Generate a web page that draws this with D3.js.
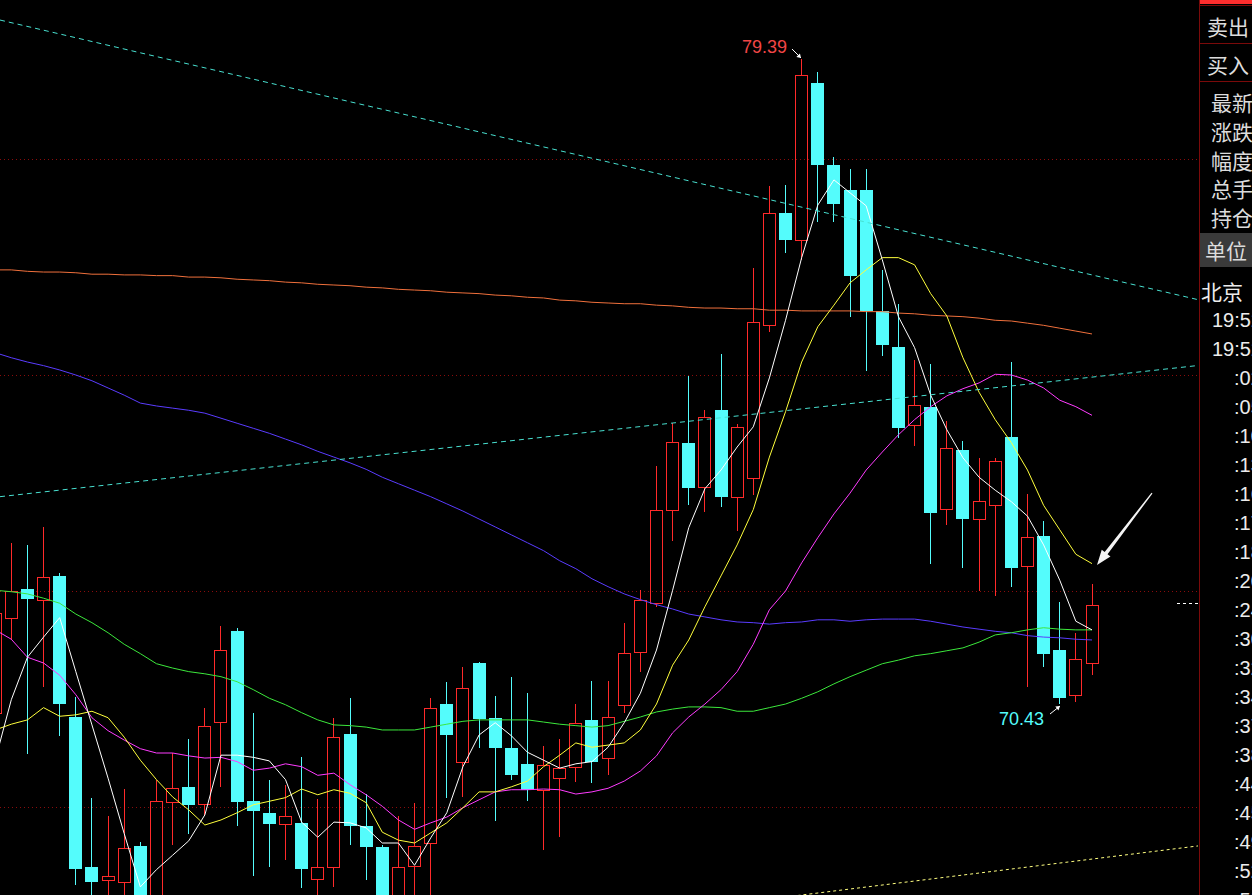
<!DOCTYPE html>
<html><head><meta charset="utf-8">
<script src="https://cdn.jsdelivr.net/npm/d3@7"></script>
<style>html,body{margin:0;padding:0;background:#000;overflow:hidden;}svg{display:block}</style>
</head><body>
<script>
// ---------------- DATA ----------------
// candle index: -1 (partially visible at the left edge) .. 67
const candleIdx = d3.range(-1, 68);
const opens = [70.31,71.62,72.03,71.87,72.21,70.25,68.16,67.98,67.96,68.46,67.70,69.07,69.28,69.04,70.18,71.44,69.08,68.91,68.77,68.78,68.00,68.16,70.02,68.74,68.44,67.70,68.18,68.50,70.43,69.63,71.00,70.23,69.82,69.60,69.24,69.40,69.55,70.21,69.68,70.42,71.15,71.84,73.13,74.05,73.44,74.52,73.31,73.57,75.69,77.25,76.88,79.06,77.92,77.57,77.57,75.89,75.39,74.30,74.55,73.14,73.96,73.00,73.20,74.14,72.35,72.76,71.18,70.55,71.00];
const highs = [71.80,72.67,72.64,72.89,72.25,70.53,69.12,68.87,69.25,68.52,69.38,69.75,69.95,70.37,71.51,71.48,70.30,69.38,69.31,69.70,69.11,70.24,70.51,69.18,68.47,68.88,69.06,70.52,70.73,70.95,71.01,70.54,70.80,70.58,69.85,69.94,70.43,70.75,70.75,71.56,72.02,73.74,74.34,74.99,74.52,75.29,74.32,76.49,77.63,77.64,79.39,79.21,78.03,77.86,77.86,76.46,75.98,75.21,75.15,74.36,74.09,73.85,73.85,75.18,73.35,72.97,71.85,71.42,72.10];
const lows = [70.20,71.32,69.73,70.66,69.98,67.92,67.60,67.60,67.60,67.60,67.60,68.47,68.63,68.87,69.28,68.73,68.04,68.17,68.26,67.87,67.60,67.89,68.47,67.98,67.60,67.60,67.60,67.70,69.12,69.14,69.82,68.80,69.38,69.08,68.40,68.59,69.35,69.33,69.44,70.30,70.88,71.78,72.70,73.19,73.10,73.16,72.83,73.33,75.60,76.70,76.60,77.13,77.13,75.81,75.05,75.26,74.13,74.01,72.38,72.92,72.32,72.00,71.93,72.05,70.66,70.95,70.43,70.46,70.83];
const closes = [71.69,72.00,71.89,72.19,70.43,68.14,67.96,68.04,68.43,67.70,69.08,69.26,69.03,70.13,71.18,69.07,68.94,68.76,68.87,68.14,68.16,69.97,68.73,68.45,67.70,68.16,68.46,70.37,70.00,70.65,70.22,69.82,69.45,69.24,69.58,69.54,70.16,69.63,70.25,71.14,71.88,73.12,74.07,73.43,74.41,73.31,74.28,75.74,77.25,76.88,79.17,77.92,77.37,76.37,75.89,75.41,74.27,74.59,73.09,73.98,73.00,73.25,73.81,72.32,72.75,71.13,70.52,71.05,71.81];

const ma5 = [69.65,70.49,71.08,71.36,71.63,70.88,70.14,69.40,68.63,67.89,68.13,68.33,68.53,68.89,69.72,69.72,69.69,69.64,69.38,68.79,68.58,68.79,68.78,68.71,68.50,68.50,68.19,68.57,68.92,69.56,70.00,70.17,69.99,69.76,69.65,69.54,69.60,69.63,69.83,70.17,70.58,71.18,72.01,72.88,73.42,73.68,74.00,74.28,74.96,75.76,76.63,77.36,77.71,77.53,77.35,76.60,75.81,75.38,74.72,74.24,73.85,73.58,73.40,73.24,73.04,72.64,72.15,71.58,71.46];
const ma10 = [70.07,70.15,70.21,70.38,70.26,70.28,70.33,70.24,69.97,69.65,69.38,69.14,68.96,68.75,68.82,68.92,69.03,69.08,69.13,69.25,69.17,69.24,69.19,69.06,68.65,68.54,68.50,68.64,68.78,68.99,69.21,69.21,69.28,69.36,69.56,69.72,69.89,69.83,69.86,69.89,70.07,70.43,70.97,71.32,71.78,72.21,72.64,73.13,73.86,74.49,75.18,75.67,75.97,76.28,76.46,76.63,76.63,76.53,76.13,75.82,75.24,74.76,74.38,74.06,73.68,73.19,72.85,72.51,72.38];
const ma20 = [71.46,71.33,71.08,71.00,70.83,70.56,70.24,70.06,69.93,69.81,69.75,69.75,69.71,69.68,69.69,69.63,69.51,69.54,69.60,69.56,69.44,69.47,69.31,69.17,69.01,68.82,68.69,68.78,68.86,68.99,69.10,69.21,69.24,69.24,69.25,69.24,69.18,69.21,69.26,69.36,69.50,69.71,70.03,70.25,70.43,70.63,70.88,71.26,71.74,72.00,72.39,72.74,73.07,73.36,73.68,73.93,74.17,74.38,74.56,74.71,74.81,74.89,75.01,75.00,74.93,74.82,74.65,74.56,74.44];
const ma60 = [72.01,71.99,71.96,71.90,71.83,71.68,71.56,71.42,71.26,71.13,70.99,70.93,70.88,70.85,70.81,70.74,70.63,70.51,70.42,70.31,70.21,70.14,70.13,70.11,70.07,70.07,70.07,70.11,70.15,70.19,70.21,70.21,70.21,70.21,70.18,70.15,70.13,70.11,70.13,70.19,70.25,70.32,70.36,70.39,70.39,70.38,70.33,70.33,70.38,70.43,70.51,70.60,70.71,70.81,70.90,70.99,71.04,71.10,71.13,71.17,71.21,71.29,71.39,71.42,71.46,71.49,71.47,71.46,71.46];
const ma120 = [75.31,75.24,75.18,75.13,75.07,75.00,74.92,74.82,74.72,74.61,74.57,74.54,74.51,74.47,74.40,74.33,74.26,74.19,74.11,74.03,73.94,73.86,73.78,73.69,73.58,73.49,73.40,73.31,73.21,73.11,73.00,72.89,72.78,72.67,72.56,72.42,72.31,72.17,72.06,71.96,71.88,71.81,71.75,71.68,71.64,71.60,71.57,71.56,71.54,71.56,71.57,71.60,71.60,71.58,71.60,71.61,71.61,71.61,71.58,71.54,71.50,71.47,71.44,71.42,71.38,71.36,71.35,71.33,71.32];
const ma250 = [76.46,76.46,76.44,76.43,76.43,76.42,76.40,76.40,76.39,76.39,76.38,76.38,76.36,76.36,76.35,76.33,76.32,76.31,76.29,76.28,76.26,76.25,76.24,76.22,76.21,76.19,76.18,76.17,76.15,76.14,76.13,76.11,76.10,76.08,76.07,76.04,76.03,76.01,76.00,75.99,75.99,75.97,75.96,75.94,75.93,75.93,75.92,75.92,75.90,75.90,75.89,75.89,75.89,75.89,75.88,75.88,75.86,75.85,75.83,75.82,75.81,75.79,75.76,75.75,75.72,75.69,75.65,75.61,75.57];

const gridPrices = [69, 72, 75, 78];
const trendDown = [[-0.7, 79.93], [73.5, 76.05]];
const trendUp = [[-0.7, 73.31], [73.5, 75.13]];
const trendLow = [[48, 67.75], [73.6, 68.46]];
const highMark = {idx: 49, price: 79.39, text: "79.39"};
const lowMark = {idx: 65, price: 70.43, text: "70.43"};
const bigArrow = {tail: [70.72, 73.36], tip: [67.31, 72.36]};

const panelLabels = ["卖出", "买入", "最新", "涨跌", "幅度", "总手", "持仓"];
const unitLabel = "单位";
const cityLabel = "北京";
const timeLabels = ["19:52", "19:52", ":02", ":05", ":10", ":13", ":16", ":17", ":18", ":20", ":24", ":30", ":32", ":34", ":37", ":38", ":44", ":45", ":49", ":52", ":55"];

// ---------------- CHART ----------------
const W = 1252, H = 895, plotW = 1198;
const RED = "#ff2a2a", CYAN = "#54fcfc";
const svg = d3.select("body").append("svg").attr("width", W).attr("height", H);
svg.append("rect").attr("width", W).attr("height", H).attr("fill", "#000");
svg.append("defs").append("clipPath").attr("id", "plotclip")
  .append("rect").attr("x", 0).attr("y", 0).attr("width", plotW).attr("height", H);

const x = d3.scaleLinear().domain([0, 67]).range([11.3, 1092]);
const y = d3.scaleLinear().domain([69, 78]).range([807, 159]);

const plot = svg.append("g").attr("clip-path", "url(#plotclip)");

// grid
plot.selectAll("line.grid").data(gridPrices).enter().append("line")
  .attr("x1", 0).attr("x2", plotW - 1)
  .attr("y1", d => Math.round(y(d)) + 0.5).attr("y2", d => Math.round(y(d)) + 0.5)
  .attr("stroke", "#8a0c0c").attr("stroke-dasharray", "1,3").attr("stroke-width", 1);

// candles
const candles = candleIdx.map((c, k) => ({c, o: opens[k], h: highs[k], l: lows[k], cl: closes[k]}));
const bw = 13;
const cg = plot.append("g").attr("shape-rendering", "crispEdges");
candles.forEach(d => {
  const left = Math.round(x(d.c) - 6.5);
  const cx = left + 6;
  const up = d.cl >= d.o;
  const top = Math.round(y(Math.max(d.o, d.cl)));
  const bot = Math.round(y(Math.min(d.o, d.cl)));
  const yh = Math.round(y(d.h)), yl = Math.round(y(d.l));
  if (up) {
    // wicks and hollow body drawn as filled 1px rectangles
    cg.append("rect").attr("x", cx).attr("y", yh).attr("width", 1).attr("height", Math.max(0, top - yh)).attr("fill", RED);
    cg.append("rect").attr("x", cx).attr("y", bot).attr("width", 1).attr("height", Math.max(0, yl - bot)).attr("fill", RED);
    const hgt = Math.max(2, bot - top + 1);
    cg.append("rect").attr("x", left).attr("y", top).attr("width", bw).attr("height", 1).attr("fill", RED);
    cg.append("rect").attr("x", left).attr("y", top + hgt - 1).attr("width", bw).attr("height", 1).attr("fill", RED);
    cg.append("rect").attr("x", left).attr("y", top).attr("width", 1).attr("height", hgt).attr("fill", RED);
    cg.append("rect").attr("x", left + bw - 1).attr("y", top).attr("width", 1).attr("height", hgt).attr("fill", RED);
  } else {
    cg.append("rect").attr("x", cx).attr("y", yh).attr("width", 1).attr("height", Math.max(1, yl - yh)).attr("fill", CYAN);
    cg.append("rect").attr("x", left).attr("y", top).attr("width", bw).attr("height", Math.max(1, bot - top))
      .attr("fill", CYAN);
  }
});

// moving averages
const maSeries = [
  {v: ma250, color: "#f0703c"},
  {v: ma120, color: "#5a3cff"},
  {v: ma60, color: "#3ce83c"},
  {v: ma20, color: "#ff3cff"},
  {v: ma10, color: "#ffff3c"},
  {v: ma5, color: "#ffffff"}
];
const line = d3.line().x(d => x(d[0])).y(d => y(d[1]));
maSeries.forEach(s => {
  plot.append("path").datum(candleIdx.map((c, k) => [c, s.v[k]]))
    .attr("d", line).attr("fill", "none").attr("stroke", s.color).attr("stroke-width", 1);
});

// trend lines
plot.append("path").datum(trendDown).attr("d", line).attr("fill", "none")
  .attr("stroke", "#48e0d0").attr("stroke-dasharray", "5,4").attr("stroke-width", 1);
plot.append("path").datum(trendUp).attr("d", line).attr("fill", "none")
  .attr("stroke", "#48e0d0").attr("stroke-dasharray", "5,4").attr("stroke-width", 1);
plot.append("path").datum(trendLow).attr("d", line).attr("fill", "none")
  .attr("stroke", "#ffff80").attr("stroke-dasharray", "3,3").attr("stroke-width", 1);

// last price marker
const lastY = Math.round(y(closes[closes.length - 1])) - 1.5;
plot.append("line").attr("x1", 1177).attr("x2", plotW).attr("y1", lastY).attr("y2", lastY)
  .attr("stroke", "#ffffff").attr("stroke-dasharray", "3,3");

// high/low annotations
function smallArrow(tip, dx, dy) {
  const tail = [tip[0] + dx, tip[1] + dy];
  plot.append("line").attr("x1", tail[0]).attr("y1", tail[1]).attr("x2", tip[0]).attr("y2", tip[1])
    .attr("stroke", "#fff").attr("stroke-width", 1);
  const len = Math.hypot(dx, dy), ux = -dx / len, uy = -dy / len, nx = -uy, ny = ux;
  const b = [tip[0] - ux * 4, tip[1] - uy * 4];
  plot.append("path").attr("d", `M${tip[0]},${tip[1]}L${b[0] + nx * 2.5},${b[1] + ny * 2.5}L${b[0] - nx * 2.5},${b[1] - ny * 2.5}Z`)
    .attr("fill", "#fff");
}
const hp = [Math.round(x(highMark.idx)) - 1, Math.round(y(highMark.price)) - 1];
smallArrow(hp, -9, -9);
plot.append("text").attr("x", hp[0] - 14).attr("y", hp[1] - 5).attr("text-anchor", "end")
  .attr("font-family", "Liberation Sans, Arial, sans-serif").attr("font-size", 18).attr("fill", "#f04646")
  .text(highMark.text);
const lp = [Math.round(x(lowMark.idx)), Math.round(y(lowMark.price)) + 2];
smallArrow(lp, -10, 8);
plot.append("text").attr("x", lp[0] - 16).attr("y", lp[1] + 19).attr("text-anchor", "end")
  .attr("font-family", "Liberation Sans, Arial, sans-serif").attr("font-size", 18).attr("fill", CYAN)
  .text(lowMark.text);

// big arrow
(function () {
  const t = [x(bigArrow.tail[0]), y(bigArrow.tail[1])];
  const p = [x(bigArrow.tip[0]), y(bigArrow.tip[1])];
  const dx = p[0] - t[0], dy = p[1] - t[1], len = Math.hypot(dx, dy);
  const ux = dx / len, uy = dy / len, nx = -uy, ny = ux;
  const hb = [p[0] - ux * 15, p[1] - uy * 15];
  const pts = [
    [t[0] + nx * 0.6, t[1] + ny * 0.6],
    [hb[0] + nx * 1.8, hb[1] + ny * 1.8],
    [hb[0] + nx * 5.5, hb[1] + ny * 5.5],
    p,
    [hb[0] - nx * 5.5, hb[1] - ny * 5.5],
    [hb[0] - nx * 1.8, hb[1] - ny * 1.8],
    [t[0] - nx * 0.6, t[1] - ny * 0.6]
  ];
  plot.append("path").attr("d", "M" + pts.map(q => q.join(",")).join("L") + "Z").attr("fill", "#f4f4f4");
})();

// ---------------- RIGHT PANEL ----------------
const panel = svg.append("g");
panel.append("line").attr("x1", 1199.5).attr("x2", 1199.5).attr("y1", 0).attr("y2", H).attr("stroke", "#7a0a0a");
panel.append("rect").attr("x", 1200).attr("y", 0).attr("width", 52).attr("height", 4).attr("fill", "#ff2e2e");
[5.5, 43.5, 81.5].forEach(v => panel.append("line").attr("x1", 1200).attr("x2", W).attr("y1", v).attr("y2", v).attr("stroke", "#7a0a0a"));
panel.append("rect").attr("x", 1200).attr("y", 233).attr("width", 52).attr("height", 34).attr("fill", "#3a3a3a");

const cjk = "'Noto Sans CJK SC', 'Noto Sans', sans-serif";
const rowPos = [[1207, 26], [1207, 64], [1211, 102], [1211, 131], [1211, 160], [1211, 188], [1211, 217]];
panelLabels.forEach((t, i) => {
  panel.append("text").attr("x", rowPos[i][0]).attr("y", rowPos[i][1]).attr("dominant-baseline", "central")
    .attr("font-family", cjk).attr("font-size", 21).attr("fill", "#dcdcdc").text(t);
});
panel.append("text").attr("x", 1205).attr("y", 250).attr("dominant-baseline", "central")
  .attr("font-family", cjk).attr("font-size", 21).attr("fill", "#dcdcdc").text(unitLabel);
panel.append("text").attr("x", 1201).attr("y", 291).attr("dominant-baseline", "central")
  .attr("font-family", cjk).attr("font-size", 21).attr("fill", "#ececec").text(cityLabel);
timeLabels.forEach((t, i) => {
  panel.append("text").attr("x", t.startsWith(":") ? 1234 : 1212).attr("y", 320 + i * 29)
    .attr("dominant-baseline", "central")
    .attr("font-family", "Liberation Sans, Arial, sans-serif").attr("font-size", 20).attr("fill", "#ececec").text(t);
});
</script>
</body></html>
